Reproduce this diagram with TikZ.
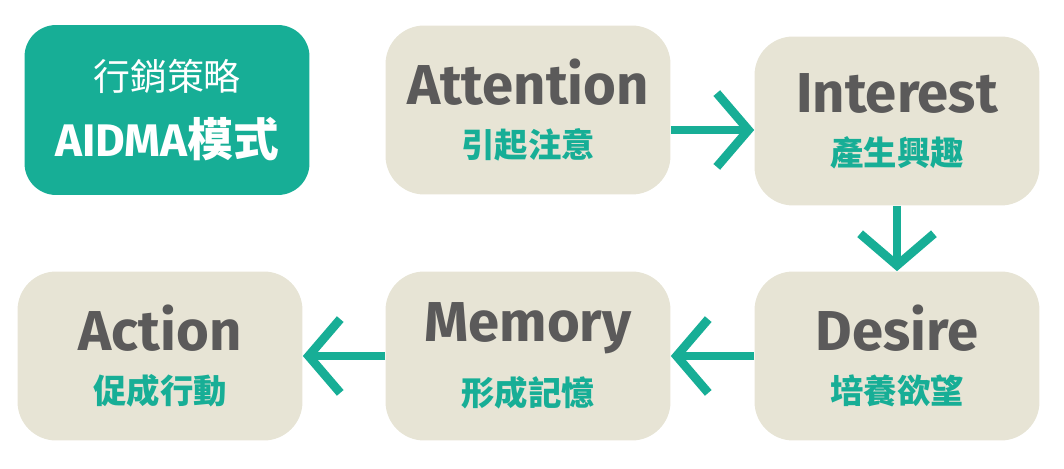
\documentclass[tikz,border=0pt]{standalone}
\usepackage{fontspec}
\setmainfont{Fira Sans}
\newfontfamily\cjk{Noto Sans CJK TC}
\usetikzlibrary{arrows.meta,positioning}
\definecolor{teal1}{HTML}{17AE96}
\definecolor{beige1}{HTML}{E7E4D5}
\definecolor{gray1}{HTML}{5B5A5A}
\tikzset{
  stagebox/.style={fill=beige1, rounded corners=22pt, minimum width=5.7cm, minimum height=3.38cm, align=center, inner sep=0pt},
  titlebox/.style={fill=teal1, rounded corners=18pt, minimum width=5.7cm, minimum height=3.4cm, align=center, inner sep=0pt},
  flow/.style={draw=teal1, line width=5pt, -{Straight Barb[length=18pt, width=42pt, line width=5pt]}}
}
\newcommand{\stagetext}[2]{{\fontsize{32}{34}\selectfont\bfseries\color{gray1}#1}\\[12pt]{\cjk\fontsize{19}{20}\selectfont\bfseries\color{teal1}#2}}
\begin{document}
\begin{tikzpicture}[x=0.02cm, y=-0.02cm]
  \useasboundingbox (0,0) rectangle (1064,469);
  % title
  \node[titlebox] (title) at (167,110) {{\cjk\fontsize{21}{22}\selectfont\color{white}行銷策略}\\[12pt]{\fontsize{26}{28}\selectfont\bfseries\color{white}AIDMA{\cjk 模式}}};
  % stages
  \node[stagebox] (attention) at (528,110) {\stagetext{Attention}{引起注意}};
  \node[stagebox] (interest) at (897,121) {\stagetext{Interest}{產生興趣}};
  \node[stagebox] (desire) at (897,356) {\stagetext{Desire}{培養欲望}};
  \node[stagebox] (memory) at (528,356) {\stagetext{Memory}{形成記憶}};
  \node[stagebox] (action) at (160,356) {\stagetext{Action}{促成行動}};
  % arrows
  \draw[flow] (attention.east |- 0,130) -- (interest.west |- 0,130);
  \draw[flow] (interest.south) -- (desire.north);
  \draw[flow] (desire.west) -- (memory.east);
  \draw[flow] (memory.west) -- (action.east);
\end{tikzpicture}
\end{document}
